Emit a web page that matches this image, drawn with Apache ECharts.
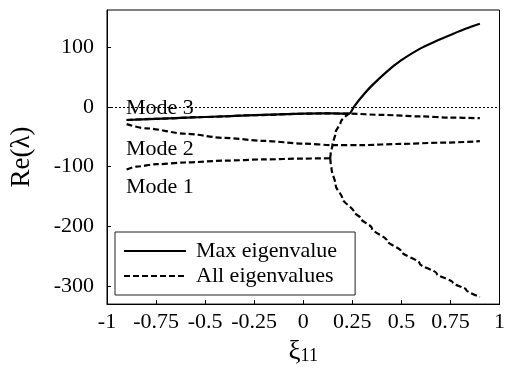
<!DOCTYPE html>
<html>
<head>
<meta charset="utf-8">
<script src="https://cdn.jsdelivr.net/npm/echarts@6/dist/echarts.min.js"></script>
<style>
  html, body { margin: 0; padding: 0; background: #fff; }
  #chart { width: 508px; height: 370px; }
</style>
</head>
<body>
<div id="chart"></div>
<script>
// Real part of the eigenvalues versus the coupling parameter xi_11
const xiMode1 = [-0.9, -0.85, -0.75, -0.6, -0.4, -0.2, 0, 0.137];
const reMode1 = [-105, -100, -96, -93, -90, -88, -86.5, -86];

const xiMode2 = [-0.9, -0.8, -0.6, -0.4, -0.2, 0, 0.15, 0.3, 0.5, 0.7, 0.9];
const reMode2 = [-29, -36, -45, -52, -57, -61.5, -64, -64, -62, -60, -57.5];

const xiMode3 = [-0.9, -0.75, -0.5, -0.25, 0, 0.1, 0.233, 0.4, 0.6, 0.75, 0.9];
const reMode3 = [-22, -20, -17, -14, -11.5, -11, -11.3, -13.5, -16, -18, -19];

// branches leaving the bifurcation point of mode 1
const xiUpper = [0.137, 0.14, 0.149, 0.165, 0.19, 0.233, 0.258, 0.291, 0.342, 0.426, 0.5, 0.593, 0.68, 0.762, 0.83, 0.9];
const reUpper = [-86, -77, -64, -43, -26, -11.3, 0, 14, 33, 59, 78, 97, 110.5, 122, 131, 139];

const xiLower = [0.137, 0.14, 0.144, 0.165, 0.199, 0.258, 0.291, 0.35, 0.426, 0.5, 0.593, 0.68, 0.762, 0.83, 0.9];
const reLower = [-86, -95, -103, -131, -153, -176, -186, -203, -224, -242, -262, -279, -294, -306, -318];

// largest real part over all modes
const xiMax = [-0.9, -0.75, -0.5, -0.25, 0, 0.1, 0.2, 0.233, 0.258, 0.291, 0.342, 0.426, 0.5, 0.593, 0.68, 0.762, 0.83, 0.9];
const reMax = [-22, -20, -17, -14, -11.5, -11, -11.2, -11.3, 0, 14, 33, 59, 78, 97, 110.5, 122, 131, 139];

// beyond this point the upper branch is the maximum and is drawn solid only
const xiCrossing = 0.233;

const xTicks = [-1, -0.75, -0.5, -0.25, 0, 0.25, 0.5, 0.75, 1];
const yTicks = [-300, -200, -100, 0, 100];
const modeLabels = ['Mode 3', 'Mode 2', 'Mode 1'];

const FONT = '"Liberation Serif", "Times New Roman", serif';
const pairs = (xs, ys) => xs.map((x, i) => [x, ys[i]]);

function dashed(data, extra) {
  return Object.assign({
    name: 'All eigenvalues',
    type: 'line',
    data: data,
    showSymbol: false,
    symbol: 'none',
    smooth: 0.3,
    smoothMonotone: 'x',
    color: '#000',
    lineStyle: { color: '#000', width: 2.2, type: [6, 3] },
    z: 2,
    silent: true
  }, extra || {});
}

const chart = echarts.init(document.getElementById('chart'), null, { renderer: 'canvas' });

chart.setOption({
  animation: false,
  backgroundColor: '#fff',
  textStyle: { fontFamily: FONT, color: '#000' },
  grid: {
    left: 107, right: 4, top: 10, bottom: 63,
    show: true, borderColor: '#000', borderWidth: 1
  },
  xAxis: {
    type: 'value',
    min: -1, max: 1, interval: 0.25,
    axisLine: { show: true, onZero: false, lineStyle: { color: '#000', width: 1 } },
    axisTick: { show: true, inside: true, length: 4, lineStyle: { color: '#000' }, customValues: xTicks },
    splitLine: { show: false },
    axisLabel: {
      color: '#000', fontFamily: FONT, fontSize: 22, margin: 7,
      customValues: xTicks,
      formatter: v => String(v)
    },
    name: '{xi|ξ}{sub|11}',
    nameLocation: 'middle',
    nameGap: 23,
    nameTextStyle: {
      rich: {
        xi: { fontFamily: FONT, fontSize: 27, color: '#000', verticalAlign: 'bottom' },
        sub: { fontFamily: FONT, fontSize: 18, color: '#000', verticalAlign: 'bottom' }
      }
    }
  },
  yAxis: {
    type: 'value',
    min: -330, max: 162,
    axisLine: { show: true, onZero: false, lineStyle: { color: '#000', width: 1 } },
    axisTick: { show: true, inside: true, length: 4, lineStyle: { color: '#000' }, customValues: yTicks },
    splitLine: { show: false },
    axisLabel: {
      color: '#000', fontFamily: FONT, fontSize: 22, margin: 13,
      customValues: yTicks
    },
    name: 'Re(λ)',
    nameLocation: 'middle',
    nameGap: 72,
    nameTextStyle: { fontFamily: FONT, fontSize: 27, color: '#000' }
  },
  legend: {
    show: true,
    orient: 'vertical',
    left: 115, top: 232,
    data: ['Max eigenvalue', 'All eigenvalues'],
    borderColor: '#222', borderWidth: 1,
    backgroundColor: '#fff',
    padding: [8, 18, 8, 8],
    itemGap: 3,
    itemWidth: 62, itemHeight: 14,
    selectedMode: false,
    itemStyle: { opacity: 0, borderWidth: 0 },
    z: 20,
    textStyle: { fontFamily: FONT, fontSize: 22, color: '#000', lineHeight: 22, padding: [0, 0, 0, 5] }
  },
  series: [
    dashed(pairs(xiMode1, reMode1), {
      markLine: {
        silent: true, symbol: 'none', label: { show: false },
        lineStyle: { color: '#000', width: 1, type: [2, 2] },
        data: [{ yAxis: 0 }]
      }
    }),
    dashed(pairs(xiMode2, reMode2)),
    dashed(pairs(xiMode3, reMode3)),
    dashed(pairs(xiUpper, reUpper).filter(p => p[0] <= xiCrossing), { smoothMonotone: 'y' }),
    dashed(pairs(xiLower, reLower), { smoothMonotone: 'y' }),
    {
      name: 'Max eigenvalue',
      type: 'line',
      data: pairs(xiMax, reMax),
      showSymbol: false,
      symbol: 'none',
      smooth: 0.3,
      color: '#000',
      lineStyle: { color: '#000', width: 2.2, type: 'solid' },
      z: 3,
      silent: true
    }
  ],
  graphic: modeLabels.map((t, i) => ({
    type: 'text',
    left: 126,
    top: [97, 138, 176][i],
    style: { text: t, font: '22px ' + FONT, fill: '#000' },
    z: 10
  }))
});
</script>
</body>
</html>
